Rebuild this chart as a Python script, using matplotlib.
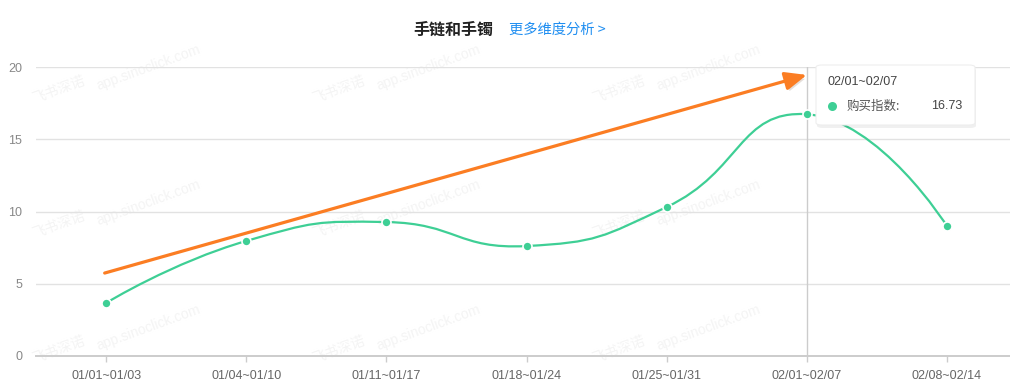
import matplotlib
matplotlib.use("Agg")
import matplotlib.pyplot as plt
from matplotlib.path import Path
from matplotlib.patches import PathPatch, FancyBboxPatch
from matplotlib.lines import Line2D
import matplotlib.patheffects as pe
import numpy as np

plt.rcParams['font.family'] = ['Liberation Sans', 'Noto Sans CJK SC', 'DejaVu Sans']

categories = ["01/01~01/03", "01/04~01/10", "01/11~01/17", "01/18~01/24",
              "01/25~01/31", "02/01~02/07", "02/08~02/14"]
values = [3.67, 7.96, 9.27, 7.61, 10.31, 16.73, 9.00]
y_ticks = [0, 5, 10, 15, 20]
title = "手链和手镯"
link_text = "更多维度分析 >"
series_name = "购买指数"
highlight_index = 5
trend_start = 5.74   # orange trend arrow start value (at first category)
trend_end = 19.45    # orange trend arrow end value (at highlighted category)

W, H = 1010, 386
fig = plt.figure(figsize=(W / 100, H / 100), dpi=100)
fig.patch.set_facecolor("white")

# axes in pixel coords: left 36, right 1017 (clipped), top 67, bottom 356
ax = fig.add_axes([36 / W, (H - 356) / H, (1017 - 36) / W, (356 - 67) / H])
ax.set_zorder(2)
ax.set_xlim(-0.5, len(categories) - 0.5)
ax.set_ylim(0, 20)
ax.set_facecolor("none")
for s in ["top", "right", "left"]:
    ax.spines[s].set_visible(False)
ax.spines["bottom"].set_color("#cccccc")
ax.spines["bottom"].set_linewidth(1.4)
ax.set_yticks(y_ticks)
ax.set_yticklabels([str(v) for v in y_ticks])
ax.set_xticks(range(len(categories)))
ax.set_xticklabels(categories)
ax.tick_params(axis="y", length=0, pad=10, labelsize=9, labelcolor="#888888")
ax.tick_params(axis="x", length=4, width=1, color="#cccccc", pad=6,
               labelsize=9, labelcolor="#666666")
for v in y_ticks[1:]:
    ax.axhline(v, color="#e2e2e2", lw=1, zorder=1)

# faint watermarks (behind the plot)
for yy in [90, 225, 350]:
    for xx in [30, 310, 590]:
        fig.text(xx / W, 1 - yy / H, "飞书深诺", rotation=20, fontsize=10,
                 color="#f4f4f4", family=['Noto Sans CJK SC'], zorder=1,
                 ha="left", va="center")
        fig.text((xx + 65) / W, 1 - (yy - 22) / H, "app.sinoclick.com", rotation=20,
                 fontsize=10, color="#f4f4f4", zorder=1, ha="left", va="center")

# crosshair
ax.axvline(highlight_index, color="#cccccc", lw=1, zorder=2)

# smooth curve (echarts-like bezier) computed in display space
fig.canvas.draw()
xs = np.arange(len(values), dtype=float)
pts = ax.transData.transform(np.column_stack([xs, values]))
smooth = 0.5
n = len(pts)
cps = []
for i in range(n):
    p1 = pts[i]
    if i == 0 or i == n - 1:
        cps.append((p1.copy(), p1.copy()))
        continue
    p0 = pts[i - 1]
    p2 = pts[i + 1]
    v = (p2 - p0) * smooth
    d0 = np.hypot(*(p1 - p0))
    d1 = np.hypot(*(p1 - p2))
    tot = d0 + d1 if d0 + d1 > 0 else 1
    cps.append((p1 - v * d0 / tot, p1 + v * d1 / tot))
verts = [pts[0]]
codes = [Path.MOVETO]
for i in range(n - 1):
    verts += [cps[i][1], cps[i + 1][0], pts[i + 1]]
    codes += [Path.CURVE4] * 3
inv = ax.transData.inverted()
verts_data = inv.transform(np.array(verts))
ax.add_patch(PathPatch(Path(verts_data, codes), fill=False, edgecolor="#3ecf95",
                       lw=1.6, zorder=3, capstyle="round"))
ax.plot(xs, values, "o", ms=6.5, color="#3ecf95", mec="white", mew=1.2, zorder=4,
        clip_on=False)

# orange trend arrow
ax.annotate("", xy=(highlight_index, trend_end), xytext=(-0.01, trend_start),
            arrowprops=dict(arrowstyle="-|>,head_length=1.3,head_width=0.55",
                            color="#fb7d23", lw=2.3, shrinkA=0, shrinkB=0,
                            path_effects=[pe.SimplePatchShadow(offset=(1.5, -2), alpha=0.15),
                                          pe.Normal()]),
            zorder=5)

# title
fig.text(453 / W, 1 - 30 / H, title, ha="center", va="center", fontsize=11.5,
         fontweight="bold", color="#222222", family=['Noto Sans CJK SC'])
fig.text(509 / W, 1 - 30 / H, link_text, ha="left", va="center", fontsize=10.3,
         color="#1f8ef1", family=['Noto Sans CJK SC'])

# tooltip
tx0, ty0, tx1, ty1 = 816, 65, 975, 125
shadow = FancyBboxPatch((tx0 / W + 0.001, 1 - (ty1 + 3) / H), (tx1 - tx0) / W, (ty1 - ty0) / H,
                        boxstyle="round,pad=0,rounding_size=0.006", transform=fig.transFigure,
                        facecolor="black", edgecolor="none", alpha=0.06, zorder=9)
fig.patches.append(shadow)
box = FancyBboxPatch((tx0 / W, 1 - ty1 / H), (tx1 - tx0) / W, (ty1 - ty0) / H,
                     boxstyle="round,pad=0,rounding_size=0.006", transform=fig.transFigure,
                     facecolor="white", edgecolor="#eeeeee", lw=0.8, zorder=10)
fig.patches.append(box)
fig.text(828 / W, 1 - 82 / H, categories[highlight_index], ha="left", va="center",
         fontsize=9, color="#444444", zorder=11)
fig.add_artist(Line2D([832 / W], [1 - 106 / H], marker="o", ms=6.5, color="#3ecf95",
                      mec="none", transform=fig.transFigure, zorder=11))
fig.text(847 / W, 1 - 106 / H, series_name + ":", ha="left", va="center",
         fontsize=9, color="#555555", family=['Noto Sans CJK SC'], zorder=11)
fig.text(962 / W, 1 - 106 / H, f"{values[highlight_index]:.2f}", ha="right", va="center",
         fontsize=9, color="#444444", zorder=11)

fig.savefig("out.png", dpi=100)
